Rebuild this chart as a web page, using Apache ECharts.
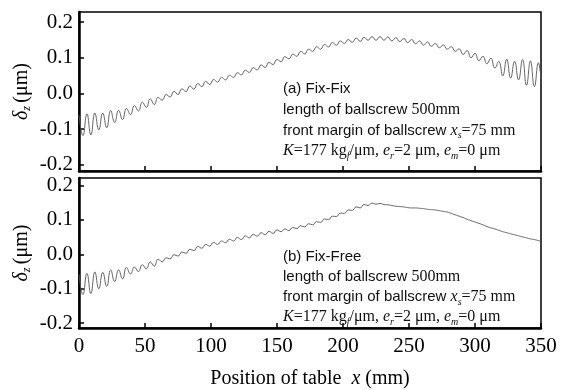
<!DOCTYPE html>
<html>
<head>
<meta charset="utf-8">
<script src="https://cdn.jsdelivr.net/npm/echarts@6/dist/echarts.min.js"></script>
<style>
  html, body { margin: 0; padding: 0; background: #fff; }
  #chart { width: 571px; height: 390px; }
</style>
</head>
<body>
<div id="chart"></div>
<script>
'use strict';

// table position x (mm), read every 3 mm off the figure
var positions = [
  0, 3, 6, 9, 12, 15, 18, 21, 24, 27, 30, 33, 36, 39, 42, 45, 48, 51, 54, 57,
  60, 63, 66, 69, 72, 75, 78, 81, 84, 87, 90, 93, 96, 99, 102, 105, 108, 111, 114, 117,
  120, 123, 126, 129, 132, 135, 138, 141, 144, 147, 150, 153, 156, 159, 162, 165, 168, 171, 174, 177,
  180, 183, 186, 189, 192, 195, 198, 201, 204, 207, 210, 213, 216, 219, 222, 225, 228, 231, 234, 237,
  240, 243, 246, 249, 252, 255, 258, 261, 264, 267, 270, 273, 276, 279, 282, 285, 288, 291, 294, 297,
  300, 303, 306, 309, 312, 315, 318, 321, 324, 327, 330, 333, 336, 339, 342, 345, 348, 350
];

// (a) Fix-Fix  deflection (um)
var fixFix = [
  -0.060, -0.118, -0.057, -0.116, -0.055, -0.102, -0.055, -0.096, -0.048, -0.081,
  -0.047, -0.073, -0.042, -0.059, -0.034, -0.049, -0.024, -0.039, -0.015, -0.031,
  -0.011, -0.019, -0.003, -0.010, 0.006, -0.003, 0.013, 0.005, 0.021, 0.012,
  0.028, 0.019, 0.034, 0.025, 0.039, 0.032, 0.045, 0.038, 0.051, 0.045,
  0.058, 0.052, 0.065, 0.059, 0.072, 0.066, 0.080, 0.073, 0.087, 0.081,
  0.095, 0.089, 0.103, 0.097, 0.110, 0.104, 0.118, 0.111, 0.124, 0.118,
  0.131, 0.124, 0.137, 0.130, 0.143, 0.135, 0.147, 0.140, 0.151, 0.143,
  0.155, 0.146, 0.157, 0.149, 0.159, 0.149, 0.159, 0.149, 0.158, 0.147,
  0.156, 0.145, 0.154, 0.142, 0.151, 0.139, 0.147, 0.135, 0.144, 0.132,
  0.140, 0.128, 0.136, 0.124, 0.131, 0.118, 0.125, 0.109, 0.120, 0.100,
  0.112, 0.092, 0.104, 0.083, 0.099, 0.071, 0.090, 0.049, 0.096, 0.043,
  0.090, 0.038, 0.095, 0.023, 0.091, 0.019, 0.086, 0.040
];

// (b) Fix-Free deflection (um)
var fixFree = [
  -0.058, -0.117, -0.055, -0.114, -0.051, -0.100, -0.052, -0.093, -0.045, -0.079,
  -0.045, -0.071, -0.038, -0.057, -0.037, -0.050, -0.030, -0.042, -0.022, -0.034,
  -0.014, -0.022, -0.010, -0.013, -0.001, -0.005, 0.007, 0.003, 0.015, 0.011,
  0.023, 0.018, 0.029, 0.024, 0.035, 0.029, 0.039, 0.034, 0.044, 0.039,
  0.049, 0.043, 0.054, 0.048, 0.058, 0.053, 0.063, 0.057, 0.067, 0.061,
  0.071, 0.066, 0.074, 0.069, 0.078, 0.075, 0.083, 0.080, 0.089, 0.086,
  0.095, 0.093, 0.103, 0.101, 0.111, 0.110, 0.120, 0.119, 0.129, 0.128,
  0.138, 0.135, 0.145, 0.142, 0.149, 0.146, 0.148, 0.145, 0.144, 0.142,
  0.140, 0.139, 0.138, 0.136, 0.135, 0.135, 0.134, 0.133, 0.131, 0.130,
  0.129, 0.127, 0.125, 0.123, 0.119, 0.115, 0.111, 0.107, 0.102, 0.098,
  0.094, 0.090, 0.086, 0.081, 0.077, 0.074, 0.070, 0.066, 0.063, 0.060,
  0.057, 0.054, 0.051, 0.048, 0.045, 0.043, 0.040, 0.038
];

var xTicks = [0, 50, 100, 150, 200, 250, 300, 350];

var SERIF = '"Liberation Serif", "DejaVu Serif", serif';
var SANS = '"Liberation Sans", Arial, sans-serif';

function pairs(ys) {
  return ys.map(function (y, i) { return [positions[i], y]; });
}

var noteRich = {
  s: { fontFamily: SANS, fontSize: 15, color: '#111' },
  r: { fontFamily: SERIF, fontSize: 16, color: '#111' },
  i: { fontFamily: SERIF, fontSize: 16, fontStyle: 'italic', color: '#111' },
  sb: { fontFamily: SERIF, fontSize: 10, fontStyle: 'italic', color: '#111', padding: [10, 0, 0, 0] }
};

function note(left, top, step, title) {
  var lines = [
    '{s|' + title + '}',
    '{s|length of ballscrew }{r|500mm}',
    '{s|front margin of ballscrew }{i|x}{sb|s}{r|=75 mm}',
    '{i|K}{r|=177 kg}{sb|f}{r|/μm, }{i|e}{sb|r}{r|=2 μm, }{i|e}{sb|m}{r|=0 μm}'
  ];
  return lines.map(function (t, k) {
    return {
      type: 'text', left: left, top: top + k * step, z: 10,
      style: { text: t, rich: noteRich, fill: '#111' }
    };
  });
}

function yAxisFor(gridIndex, min, max) {
  return {
    gridIndex: gridIndex,
    type: 'value',
    min: min, max: max,
    splitNumber: 4,
    name: '{d|δ}{z|z} {u|(μm)}',
    nameLocation: 'middle',
    nameGap: 46,
    nameMoveOverlap: false,
    nameTextStyle: {
      rich: {
        d: { fontFamily: SERIF, fontSize: 20, fontStyle: 'italic', color: '#000' },
        z: { fontFamily: SERIF, fontSize: 12, fontStyle: 'italic', color: '#000', padding: [10, 0, 0, 0] },
        u: { fontFamily: SERIF, fontSize: 20, color: '#000' }
      }
    },
    axisLine: { show: true, lineStyle: { color: '#000', width: 2.5 } },
    axisTick: { show: true, inside: true, length: 5, lineStyle: { color: '#000', width: 1.5 } },
    axisLabel: {
      showMinLabel: false, showMaxLabel: false,
      margin: 6, fontFamily: SERIF, fontSize: 21, color: '#000',
      formatter: function (v) { return v.toFixed(1); }
    },
    splitLine: { show: false }
  };
}

function xAxisFor(gridIndex, labels) {
  return {
    gridIndex: gridIndex,
    type: 'value',
    min: 0, max: 350, interval: 50,
    name: labels ? '{r|Position of table  }{i|x}{r| (mm)}' : '',
    nameLocation: 'middle',
    nameGap: 41,
    nameTextStyle: {
      rich: {
        r: { fontFamily: SERIF, fontSize: 20, color: '#000' },
        i: { fontFamily: SERIF, fontSize: 20, fontStyle: 'italic', color: '#000' }
      }
    },
    axisLine: { show: true, onZero: false, lineStyle: { color: '#000', width: 2.5 } },
    axisTick: { show: true, inside: true, length: 5, lineStyle: { color: '#000', width: 1.5 } },
    axisLabel: {
      show: labels, margin: 8, fontFamily: SERIF, fontSize: 21, color: '#000',
      customValues: xTicks
    },
    splitLine: { show: false }
  };
}

var chart = echarts.init(document.getElementById('chart'));

chart.setOption({
  backgroundColor: '#fff',
  animation: false,
  grid: [
    { left: 79, top: 12, width: 462, height: 159, show: true, borderColor: '#000', borderWidth: 1.5 },
    { left: 79, top: 178, width: 462, height: 160, show: true, borderColor: '#000', borderWidth: 1.5 }
  ],
  xAxis: [xAxisFor(0, false), xAxisFor(1, true)],
  yAxis: [yAxisFor(0, -0.217, 0.228), yAxisFor(1, -0.214, 0.222)],
  series: [
    {
      name: 'Fix-Fix', type: 'line', xAxisIndex: 0, yAxisIndex: 0,
      data: pairs(fixFix), showSymbol: false, smooth: 0.5,
      lineStyle: { color: '#555', width: 0.9 }
    },
    {
      name: 'Fix-Free', type: 'line', xAxisIndex: 1, yAxisIndex: 1,
      data: pairs(fixFree), showSymbol: false, smooth: 0.5,
      lineStyle: { color: '#555', width: 0.9 }
    }
  ],
  graphic: note(283, 81, 20.7, '(a) Fix-Fix').concat(note(283, 249, 20, '(b) Fix-Free'))
});
</script>
</body>
</html>
